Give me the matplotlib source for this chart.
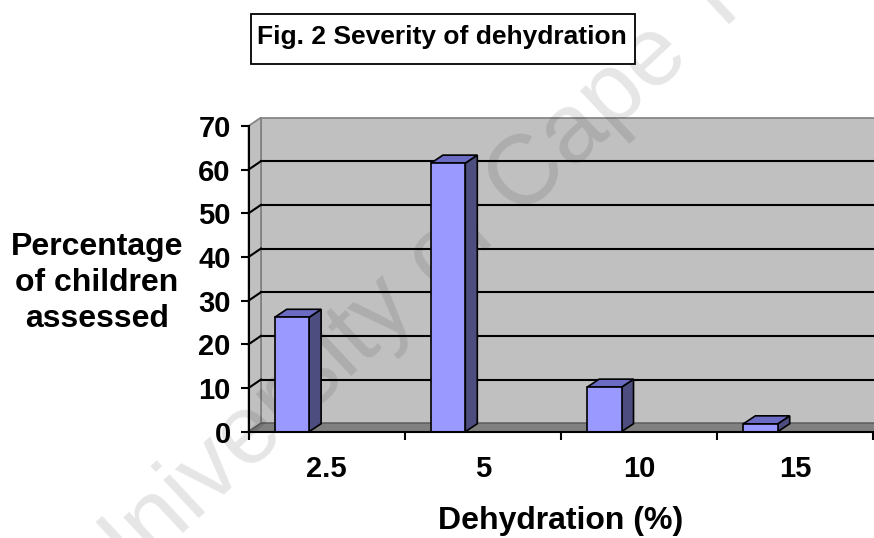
import matplotlib
matplotlib.use('Agg')
import matplotlib.pyplot as plt
from matplotlib.patches import Polygon, Rectangle
from matplotlib.lines import Line2D

# ---------------- data ----------------
categories = ['2.5', '5', '10', '15']
values = [26.2, 61.5, 10.2, 1.8]
y_ticks = [0, 10, 20, 30, 40, 50, 60, 70]
title = 'Fig. 2 Severity of dehydration'
x_label = 'Dehydration (%)'
y_label = 'Percentage\nof children\nassessed'
watermark = 'University of Cape Town'

# ---------------- layout ----------------
W, H, DPI = 874, 538, 100
plt.rcParams['font.family'] = ['Liberation Sans', 'DejaVu Sans']
fig = plt.figure(figsize=(W / DPI, H / DPI), dpi=DPI)
fig.patch.set_facecolor('white')

ax_left, ax_right = 248.5, 873.3
ax_zero, ax_top = 431.7, 126.0
ax = fig.add_axes([ax_left / W, 1 - ax_zero / H,
                   (ax_right - ax_left) / W, (ax_zero - ax_top) / H])
n = len(categories)
ymax = y_ticks[-1]
ax.set_xlim(0, n)
ax.set_ylim(0, ymax)
ax.patch.set_visible(False)

sx = (ax_right - ax_left) / n
sy = (ax_zero - ax_top) / ymax
DX, DY = 12.5 / sx, 8.5 / sy      # wall depth in data units
BDX, BDY = 12.0 / sx, 8.0 / sy    # bar depth in data units

wall_c = '#C0C0C0'
edge_c = '#808080'
floor_c = '#808080'

# back wall
ax.add_patch(Polygon([(DX, DY), (n + DX, DY), (n + DX, ymax + DY), (DX, ymax + DY)],
                     closed=True, fc=wall_c, ec=edge_c, lw=1.2, clip_on=False, zorder=1))
# side wall
ax.add_patch(Polygon([(0, 0), (DX, DY), (DX, ymax + DY), (0, ymax)],
                     closed=True, fc=wall_c, ec=edge_c, lw=1.2, clip_on=False, zorder=1))
# floor
ax.add_patch(Polygon([(0, 0), (n, 0), (n + DX, DY), (DX, DY)],
                     closed=True, fc=floor_c, ec='#606060', lw=1.0, clip_on=False, zorder=2))

# gridlines
for v in y_ticks[1:-1]:
    ax.add_line(Line2D([DX, n + DX], [v + DY, v + DY], color='black', lw=1.5,
                       clip_on=False, zorder=2))
    ax.add_line(Line2D([0, DX], [v, v + DY], color='black', lw=1.5,
                       clip_on=False, zorder=2))

# watermark (behind the bars, above the walls)
ax.text(102 / W, 1 - 608 / H, watermark, transform=fig.transFigure,
        fontsize=71, color='black', alpha=0.10, rotation=43,
        rotation_mode='anchor', ha='left', va='baseline', zorder=3, clip_on=False)

# bars
bar_off, bar_w = 0.168, 0.22
for i, v in enumerate(values):
    x0 = i + bar_off
    ax.add_patch(Polygon([(x0 + bar_w, 0), (x0 + bar_w + BDX, BDY),
                          (x0 + bar_w + BDX, v + BDY), (x0 + bar_w, v)],
                         closed=True, fc='#4D4D80', ec='black', lw=1.2, zorder=4))
    ax.add_patch(Polygon([(x0, v), (x0 + bar_w, v), (x0 + bar_w + BDX, v + BDY),
                          (x0 + BDX, v + BDY)],
                         closed=True, fc='#6B6BC4', ec='black', lw=1.2, zorder=4))
    ax.add_patch(Rectangle((x0, 0), bar_w, v, fc='#9999FF', ec='black', lw=1.2, zorder=5))

# axes spines
for s in ['top', 'right']:
    ax.spines[s].set_visible(False)
for s in ['left', 'bottom']:
    ax.spines[s].set_color('black')
    ax.spines[s].set_linewidth(1.5)
    ax.spines[s].set_zorder(6)

ax.set_yticks(y_ticks)
ax.set_yticklabels([str(t) for t in y_ticks], fontsize=21, fontweight='bold')
ax.tick_params(axis='y', direction='out', length=6, width=1.5, pad=6.8)

ax.set_xticks(range(n + 1))
ax.set_xticklabels([])
ax.set_xticks([i + 0.5 for i in range(n)], minor=True)
ax.set_xticklabels(categories, minor=True, fontsize=21, fontweight='bold')
ax.tick_params(axis='x', which='major', direction='out', length=6, width=1.5)
ax.tick_params(axis='x', which='minor', length=0, pad=17)

ax.set_ylabel(y_label, fontsize=23, fontweight='bold', rotation=0,
              ha='center', va='center', linespacing=1.25)
ax.yaxis.set_label_coords((97 - ax_left) / (ax_right - ax_left),
                          (ax_zero - 283) / (ax_zero - ax_top))
ax.set_xlabel(x_label, fontsize=23, fontweight='bold', va='center')
ax.xaxis.set_label_coords((561 - ax_left) / (ax_right - ax_left),
                          (ax_zero - 521) / (ax_zero - ax_top))

# title with box
fig.patches.append(Rectangle((251 / W, 1 - 64 / H), (635 - 251) / W, (64 - 14) / H,
                             transform=fig.transFigure, fc='white', ec='black', lw=1.3,
                             zorder=1))
fig.text(442 / W, 1 - 44 / H, title, fontsize=19, fontweight='bold',
         ha='center', va='baseline', zorder=2)

fig.savefig('out.png', dpi=DPI)
